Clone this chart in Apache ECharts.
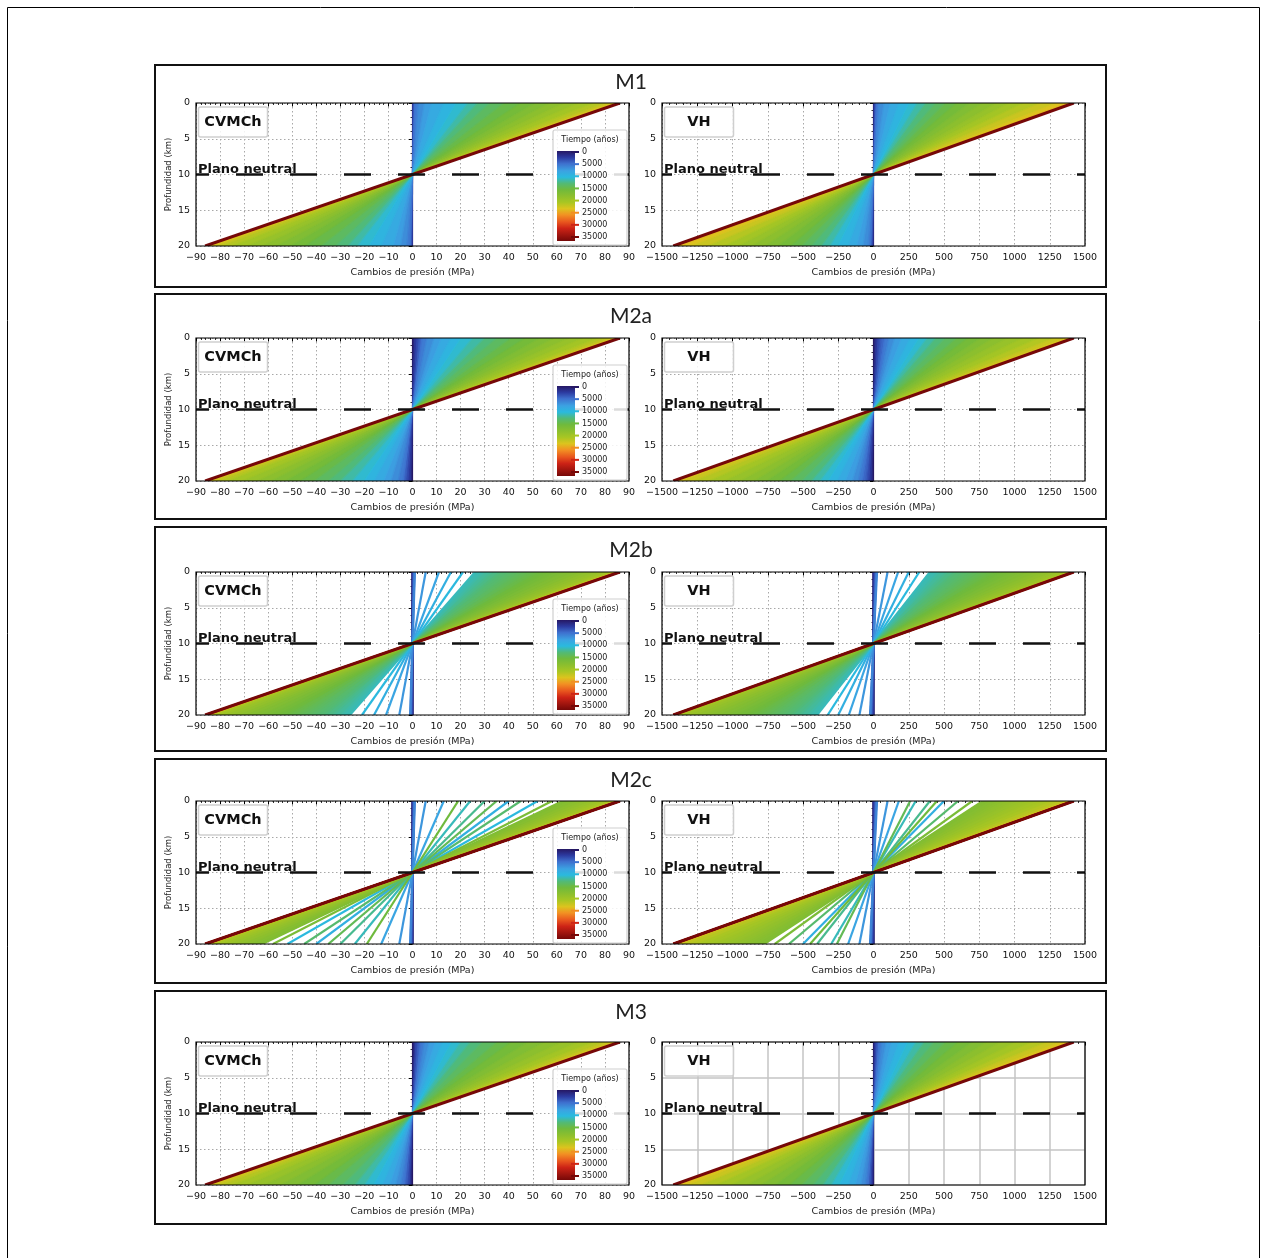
<!DOCTYPE html>
<html><head><meta charset="utf-8">
<script src="https://cdn.jsdelivr.net/npm/echarts@6/dist/echarts.min.js"></script>
<style>html,body{margin:0;padding:0;background:#fff}#c{width:1261px;height:1258px}</style>
</head><body><div id="c"></div>
<script>
// ---------------- DATA ----------------
const PANELS = ['M1', 'M2a', 'M2b', 'M2c', 'M3'];
const MODELS = ['CVMCh', 'VH'];
const YEARS = [0,1000,2000,3000,4000,5000,6000,7000,8000,9000,10000,11000,12000,13000,14000,15000,16000,17000,18000,19000,20000,21000,22000,23000,24000,25000,26000,27000,28000,29000,30000,31000,32000,33000,34000,35000];
const M2B_YEARS = [0,1000,2000,3000,4000,5000,6000,7000,8000,9000,10000,11000,11500,12000,12500,13000,13500,14000,14500,15000,15500,16000,16500,17000,17500,18000,18500,19000,19500,20000,21000,22000,24000,27000,30000,35000];
const M2C_YEARS = [0,1000,2000,3000,4000,5000,6000,7000,8000,9000,10000,11000,12000,13000,14000,15000,16000,16500,17000,17500,18000,18500,19000,19500,20000,20500,21000,22000,23000,24000,26000,28000,30000,32000,34000,35000];
const LEGEND_TICKS = [0,5000,10000,15000,20000,25000,30000,35000];
const X_RANGE_CVMCH = [-90, 90], X_STEP_CVMCH = 10;
const X_RANGE_VH = [-1500, 1500], X_STEP_VH = 250;
const DEPTH_RANGE = [0, 20], DEPTH_STEP = 5, NEUTRAL_DEPTH = 10;
const X_LABEL = 'Cambios de presión (MPa)';
const Y_LABEL = 'Profundidad (km)';
const LEGEND_TITLE = 'Tiempo (años)';
const NEUTRAL_LABEL = 'Plano neutral';

// pressure change at the surface (depth 0) for each time step; at 20 km depth it is the opposite value
const M1_CVMCH  = [0,0.1,0.2,0.4,0.7,1,2.5,5,8,13,18,23,27,32,38,45,51,57,63,69,75,80,83,85,85.6,85.9,86,86.1,86.1,86.1,86.2,86.2,86.2,86.2,86.2,86.2];
const M1_VH     = [0,3,6,10,15,22,40,75,120,180,250,310,370,440,510,590,680,770,870,960,1060,1180,1300,1380,1410,1416,1418,1419,1420,1420,1420,1420,1420,1420,1420,1420];
const M2A_CVMCH = [0,0.5,1,2,3,4,6,9,12,16,20,25,30,35,41,47,53,59,65,71,77,81,84,85.4,85.8,86,86.1,86.1,86.1,86.2,86.2,86.2,86.2,86.2,86.2,86.2];
const M2A_VH    = [0,10,20,35,55,80,110,150,200,260,320,380,440,510,590,670,760,850,950,1060,1170,1280,1365,1405,1415,1418,1419,1420,1420,1420,1420,1420,1420,1420,1420,1420];
const M2B_CVMCH = [0,0,0.2,0.4,0.6,0.8,1,5.5,11,16,21,26,29.5,33,36.5,40,43.5,47,50.5,54,57.5,61,64.5,68,71,74,77,79.5,81.5,83,84.5,85.3,85.8,86,86.1,86.2];
const M2B_VH    = [0,0,5,10,15,20,25,100,175,250,325,400,460,520,580,640,700,760,820,880,940,1000,1060,1120,1180,1240,1290,1335,1370,1395,1408,1415,1418,1420,1420,1420];
const M2C_CVMCH = [0,0,0.2,0.4,0.6,0.8,1,5.5,13,40,52,24,30,45,35,19,58,62.5,66,69.5,72.5,75.5,78,80.5,82.5,84,85,85.6,85.9,86,86.1,86.1,86.2,86.2,86.2,86.2];
const M2C_VH    = [0,0,5,10,15,20,25,100,180,500,880,300,400,600,260,450,700,775,840,905,970,1035,1100,1165,1230,1290,1345,1390,1410,1416,1419,1420,1420,1420,1420,1420];
const M3_CVMCH  = [0,0.5,1,1.5,2.5,3.5,5,7,9.5,12.5,16,20,24,29,35,41,48,55,62,69,75,80,83.5,85.2,85.8,86,86.1,86.1,86.1,86.2,86.2,86.2,86.2,86.2,86.2,86.2];
const M3_VH     = [0,5,10,18,28,40,60,90,130,180,240,300,360,430,510,600,700,800,900,1010,1120,1230,1330,1395,1413,1418,1419,1420,1420,1420,1420,1420,1420,1420,1420,1420];

const FANS = [[M1_CVMCH, M1_VH],[M2A_CVMCH, M2A_VH],[M2B_CVMCH, M2B_VH],[M2C_CVMCH, M2C_VH],[M3_CVMCH, M3_VH]];
const PANEL_YEARS = [YEARS, YEARS, M2B_YEARS, M2C_YEARS, YEARS];
const SPARSE = [false, false, true, true, false];

// ---------------- STYLE / LAYOUT ----------------
const FONT = 'DejaVu Sans';
const PLOT_TOP = [103, 338, 572, 801, 1042];
const PLOT_H = 143;
const PLOT_X = [196, 662];
const PLOT_W = [433, 423];
const BOX = [[65, 287], [294, 519], [527, 751], [759, 983], [991, 1224]];
const BOX_X = 155, BOX_W = 951;
const TITLE_Y = [82, 316, 550, 780, 1012];
const DASH_OFFSET = [14, 17];

const CMAP = [
  [0.00, [38, 24, 100]],
  [0.07, [44, 58, 160]],
  [0.14, [62, 112, 206]],
  [0.22, [60, 162, 226]],
  [0.29, [42, 186, 222]],
  [0.36, [82, 186, 118]],
  [0.43, [112, 186, 60]],
  [0.50, [140, 191, 46]],
  [0.57, [168, 198, 35]],
  [0.64, [220, 196, 30]],
  [0.71, [242, 145, 35]],
  [0.79, [232, 85, 30]],
  [0.86, [205, 35, 22]],
  [1.00, [118, 8, 8]]
];
function cmap(f) {
  f = Math.max(0, Math.min(1, f));
  for (let i = 1; i < CMAP.length; i++) {
    if (f <= CMAP[i][0]) {
      const a = CMAP[i - 1], b = CMAP[i];
      const u = (f - a[0]) / (b[0] - a[0]);
      const c = a[1].map((v, k) => Math.round(v + (b[1][k] - v) * u));
      return 'rgb(' + c.join(',') + ')';
    }
  }
  return 'rgb(' + CMAP[CMAP.length - 1][1].join(',') + ')';
}
const TMAX = LEGEND_TICKS[LEGEND_TICKS.length - 1];
const minus = v => String(v).replace('-', '\u2212');

const grids = [], xAxes = [], yAxes = [], series = [], graphics = [];

graphics.push({ type: 'rect', z: 100, shape: { x: 7.5, y: 7.5, width: 1252, height: 1262 }, style: { fill: 'none', stroke: '#000', lineWidth: 1 } });

PANELS.forEach((pname, p) => {
  graphics.push({ type: 'rect', z: 100, shape: { x: BOX_X, y: BOX[p][0], width: BOX_W, height: BOX[p][1] - BOX[p][0] }, style: { fill: 'none', stroke: '#111', lineWidth: 2 } });
  graphics.push({ type: 'text', z: 100, x: 631, y: TITLE_Y[p], style: { text: pname, fontFamily: 'Lato', fontSize: 21, fill: '#222', align: 'center', verticalAlign: 'middle' } });

  MODELS.forEach((mname, m) => {
    const gi = p * 2 + m;
    const left = PLOT_X[m], top = PLOT_TOP[p], w = PLOT_W[m];
    const range = m === 0 ? X_RANGE_CVMCH : X_RANGE_VH;
    const step = m === 0 ? X_STEP_CVMCH : X_STEP_VH;
    const solidGrid = (p === 4 && m === 1);
    const gridLine = solidGrid ? { color: '#c4c4c4', width: 1.5, type: 'solid' } : { color: '#a8a8a8', width: 1, type: [1.5, 2.5] };
    grids.push({ left: left, top: top, width: w, height: PLOT_H, containLabel: false });
    xAxes.push({
      type: 'value', gridIndex: gi, min: range[0], max: range[1], interval: step,
      name: X_LABEL, nameLocation: 'middle', nameGap: 22,
      nameTextStyle: { fontFamily: FONT, fontSize: 9.5, color: '#222' },
      axisLine: { show: false },
      axisTick: { show: true, length: 3.5, lineStyle: { color: '#000', width: 1 } },
      minorTick: { show: true, splitNumber: 5, length: 2, lineStyle: { color: '#000', width: 0.8 } },
      axisLabel: { fontFamily: FONT, fontSize: 9.5, color: '#111', margin: 7, formatter: minus },
      splitLine: { show: true, lineStyle: gridLine }
    });
    yAxes.push({
      type: 'value', gridIndex: gi, min: DEPTH_RANGE[0], max: DEPTH_RANGE[1], interval: DEPTH_STEP, inverse: true,
      name: m === 0 ? Y_LABEL : '', nameLocation: 'middle', nameGap: 23, nameRotate: 90,
      nameTextStyle: { fontFamily: FONT, fontSize: 8.5, color: '#222' },
      axisLine: { show: false },
      axisTick: { show: true, length: 3.5, lineStyle: { color: '#000', width: 1 } },
      minorTick: { show: true, splitNumber: 5, length: 2, lineStyle: { color: '#000', width: 0.8 } },
      axisLabel: { fontFamily: FONT, fontSize: 9.5, color: '#111', margin: 6 },
      splitLine: { show: true, lineStyle: gridLine }
    });

    const values = FANS[p][m];
    const years = PANEL_YEARS[p];
    const sparse = SPARSE[p];
    const maxAbs = Math.max.apply(null, values);
    const gap = sparse ? 0.05 * maxAbs : Infinity;
    series.push({
      type: 'custom', xAxisIndex: gi, yAxisIndex: gi, clip: true, z: 2, silent: true,
      data: values.map((a, i) => [a, DEPTH_RANGE[0], years[i]]),
      encode: { x: 0, y: 1 },
      renderItem: (params, api) => {
        const i = params.dataIndex;
        const a = api.value(0), t = api.value(2);
        const c = api.coord([0, NEUTRAL_DEPTH]);
        const topP = api.coord([a, DEPTH_RANGE[0]]);
        const botP = api.coord([-a, DEPTH_RANGE[1]]);
        const children = [];
        const next = values[i + 1];
        if (next !== undefined && Math.abs(next - a) <= gap) {
          const tn = api.coord([next, DEPTH_RANGE[0]]);
          const bn = api.coord([-next, DEPTH_RANGE[1]]);
          const col = cmap((t + years[i + 1]) / 2 / TMAX);
          children.push({ type: 'polygon', shape: { points: [topP, tn, c] }, style: { fill: col, stroke: col, lineWidth: 0.7 } });
          children.push({ type: 'polygon', shape: { points: [botP, bn, c] }, style: { fill: col, stroke: col, lineWidth: 0.7 } });
        }
        const last = i === values.length - 1;
        children.push({ type: 'line', shape: { x1: topP[0], y1: topP[1], x2: botP[0], y2: botP[1] },
          style: { stroke: cmap(t / TMAX), lineWidth: last ? 3 : (sparse ? 2.2 : 1.2) } });
        return { type: 'group', children: children };
      }
    });
    series.push({
      type: 'line', xAxisIndex: gi, yAxisIndex: gi, z: 5, silent: true, symbol: 'none',
      data: [[range[0], NEUTRAL_DEPTH], [range[1], NEUTRAL_DEPTH]],
      lineStyle: { color: '#111', width: 2.5, type: [27, 27], dashOffset: DASH_OFFSET[m] }
    });

    // plot frame
    graphics.push({ type: 'rect', z: 100, shape: { x: left, y: top, width: w, height: PLOT_H }, style: { fill: 'none', stroke: '#000', lineWidth: 1.2 } });
    // model label box
    graphics.push({ type: 'rect', z: 101, shape: { x: left + 2.5, y: top + 4, width: 69, height: 30, r: 2 }, style: { fill: 'rgba(255,255,255,0.85)', stroke: '#cfcfcf', lineWidth: 1.5 } });
    graphics.push({ type: 'text', z: 102, x: left + 37, y: top + 19.5, style: { text: mname, fontFamily: FONT, fontWeight: 'bold', fontSize: 14.5, fill: '#111', align: 'center', verticalAlign: 'middle' } });
    // neutral plane label
    graphics.push({ type: 'text', z: 102, x: left + 2, y: top + PLOT_H / 2 + 2, style: { text: NEUTRAL_LABEL, fontFamily: FONT, fontWeight: 'bold', fontSize: 13, fill: '#111', align: 'left', verticalAlign: 'bottom' } });

    // colour legend (left plot only)
    if (m === 0) {
      const lx = 553, ly = top + 27, lw = 74, lh = 115;
      graphics.push({ type: 'rect', z: 101, shape: { x: lx, y: ly, width: lw, height: lh, r: 2 }, style: { fill: 'rgba(255,255,255,0.85)', stroke: '#cfcfcf', lineWidth: 1.2 } });
      graphics.push({ type: 'text', z: 102, x: lx + lw / 2, y: ly + 10, style: { text: LEGEND_TITLE, fontFamily: FONT, fontSize: 8, fill: '#222', align: 'center', verticalAlign: 'middle' } });
      const gy0 = ly + 21, gy1 = ly + 111;
      graphics.push({ type: 'rect', z: 102, shape: { x: lx + 4, y: gy0, width: 18, height: gy1 - gy0 },
        style: { fill: new echarts.graphic.LinearGradient(0, 0, 0, 1, CMAP.map(s => ({ offset: s[0], color: 'rgb(' + s[1].join(',') + ')' }))) } });
      LEGEND_TICKS.forEach((tv, k) => {
        const yy = ly + 22 + k * (85 / (LEGEND_TICKS.length - 1));
        graphics.push({ type: 'line', z: 103, shape: { x1: lx + 18, y1: yy, x2: lx + 26, y2: yy }, style: { stroke: cmap(tv / TMAX), lineWidth: 2 } });
        graphics.push({ type: 'text', z: 103, x: lx + 29, y: yy, style: { text: String(tv), fontFamily: FONT, fontSize: 8, fill: '#222', align: 'left', verticalAlign: 'middle' } });
      });
    }
  });
});

const chart = echarts.init(document.getElementById('c'), null, { renderer: 'canvas' });
chart.setOption({
  backgroundColor: '#fff',
  animation: false,
  grid: grids, xAxis: xAxes, yAxis: yAxes, series: series,
  graphic: { elements: graphics }
});
</script></body></html>
